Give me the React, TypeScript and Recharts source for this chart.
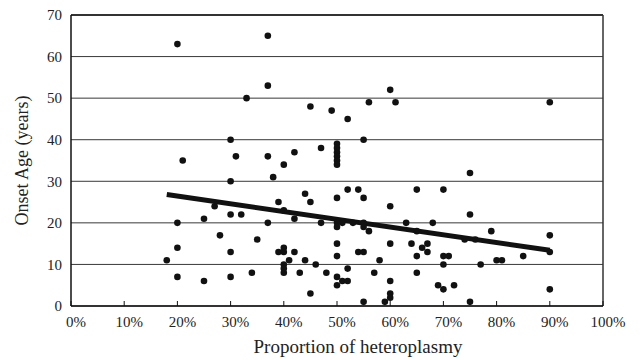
import React from 'react';
import { ScatterChart, Scatter, XAxis, YAxis, CartesianGrid, ReferenceLine, Label } from 'recharts';

// heteroplasmy (%) and onset age (years), read pairwise from the figure
const heteroplasmyPct = [
  18, 20, 20, 20, 20, 21, 25, 25, 27, 28,
  30, 30, 30, 30, 30, 31, 32, 33, 34, 35,
  37, 37, 37, 37, 38, 39, 39, 40, 40, 40,
  40, 40, 40, 40, 41, 42, 42, 42, 43, 44,
  44, 45, 45, 45, 46, 47, 47, 48, 49, 50,
  50, 50, 50, 50, 50, 50, 50, 50, 50, 50,
  50, 50, 51, 51, 52, 52, 52, 52, 53, 54,
  54, 55, 55, 55, 55, 55, 55, 56, 56, 57,
  58, 59, 60, 60, 60, 60, 60, 60, 61, 63,
  64, 65, 65, 65, 65, 66, 67, 67, 68, 69,
  70, 70, 70, 70, 71, 72, 74, 75, 75, 75,
  76, 77, 79, 80, 81, 85, 90, 90, 90, 90,
];
const onsetAge = [
  11, 63, 20, 14, 7, 35, 21, 6, 24, 17,
  40, 30, 22, 13, 7, 36, 22, 50, 8, 16,
  65, 53, 36, 20, 31, 25, 13, 34, 23, 14,
  13, 10, 9, 8, 11, 37, 21, 13, 8, 27,
  11, 48, 25, 3, 10, 38, 20, 8, 47, 39,
  38, 37, 36, 35, 34, 26, 20, 19, 15, 12,
  7, 5, 20, 6, 45, 28, 9, 6, 20, 28,
  13, 40, 26, 20, 19, 13, 1, 49, 18, 8,
  11, 1, 52, 24, 15, 6, 3, 2, 49, 20,
  15, 28, 18, 12, 8, 14, 15, 13, 20, 5,
  28, 12, 10, 4, 12, 5, 16, 32, 22, 1,
  16, 10, 18, 11, 11, 12, 49, 17, 13, 4,
];

// regression line end points
const trendX = [18, 90];
const trendY = [26.8, 13.4];

const xTicks = [0, 10, 20, 30, 40, 50, 60, 70, 80, 90, 100];
const yTicks = [0, 10, 20, 30, 40, 50, 60, 70];

const points = heteroplasmyPct.map((x, i) => ({ x, y: onsetAge[i] }));
const trendSegment = trendX.map((x, i) => ({ x, y: trendY[i] }));

const font = '"Liberation Serif", "Times New Roman", serif';

const XTick = (props: any) => {
  const { x, y, payload } = props;
  return (
    <g>
      <line x1={x} x2={x} y1={y} y2={y - 5} stroke="#111" />
      <text x={x + 5} y={y + 21} textAnchor="middle" fontSize={15} fontFamily={font} fill="#222">
        {payload.value}%
      </text>
    </g>
  );
};

const Dot = (props: any) => <circle cx={props.cx} cy={props.cy} r={3.3} fill="#111" />;

export default function App() {
  return (
    <div style={{ position: 'fixed', left: 0, top: 0, background: '#fff', fontFamily: font }}>
      <ScatterChart width={640} height={360} margin={{ top: 15, right: 37, left: 0, bottom: 0 }}>
        <CartesianGrid horizontal vertical={false} stroke="#222" strokeOpacity={0.9} />
        <XAxis
          type="number"
          dataKey="x"
          domain={[0, 100]}
          ticks={xTicks}
          height={54}
          tickSize={0}
          tickMargin={0}
          tick={<XTick />}
          axisLine={{ stroke: '#111', strokeWidth: 1.5 }}
        >
          <Label
            value="Proportion of heteroplasmy"
            position="insideBottom"
            offset={7}
            dx={21}
            style={{ fontSize: 19, fontFamily: font, fill: '#222' }}
          />
        </XAxis>
        <YAxis
          type="number"
          dataKey="y"
          domain={[0, 70]}
          ticks={yTicks}
          width={71}
          tickSize={0}
          tickMargin={9}
          tick={{ fontSize: 15, fontFamily: font, fill: '#222' }}
          axisLine={{ stroke: '#111', strokeWidth: 1.5 }}
        >
          <Label
            value="Onset Age (years)"
            angle={-90}
            position="insideLeft"
            offset={22}
            style={{ fontSize: 18, fontFamily: font, fill: '#222', textAnchor: 'middle' }}
          />
        </YAxis>
        <ReferenceLine y={70} stroke="#333" strokeWidth={2} />
        <ReferenceLine x={100} stroke="#333" strokeWidth={1.5} />
        <Scatter data={points} shape={<Dot />} isAnimationActive={false} />
        <ReferenceLine segment={trendSegment} stroke="#111" strokeWidth={5} />
      </ScatterChart>
    </div>
  );
}
